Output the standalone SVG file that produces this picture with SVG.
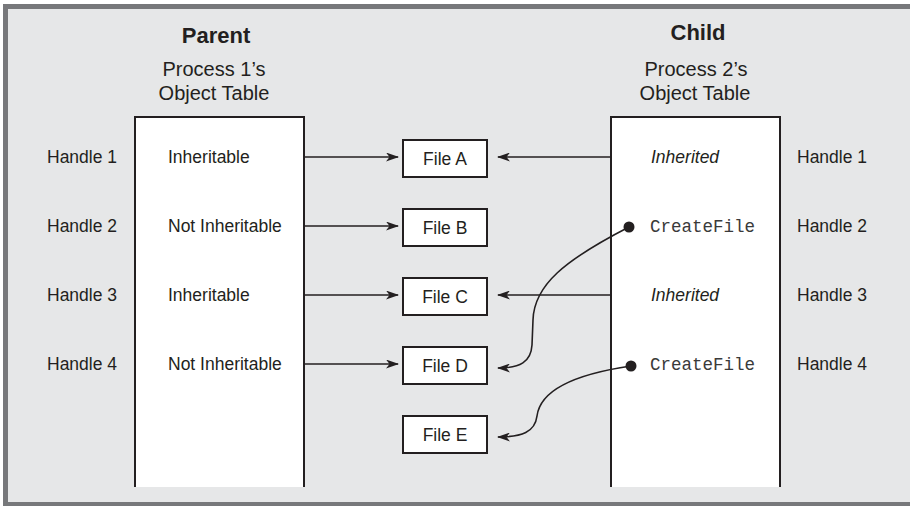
<svg xmlns="http://www.w3.org/2000/svg" width="910" height="506" viewBox="0 0 910 506">
<style>
text{font-family:"Liberation Sans",Arial,sans-serif;fill:#231f20;font-size:17.5px}
.title{font-weight:bold;font-size:22px;text-anchor:middle}
.sub{font-size:20px;text-anchor:middle}
.mid{text-anchor:middle}
.it{font-style:italic}
.mono{font-family:"Liberation Mono","Courier New",monospace;fill:#3a3a3a}
.tbl{fill:#fff;stroke:none}
.tb{fill:none;stroke:#231f20;stroke-width:2}
.file rect{fill:#fff;stroke:#231f20;stroke-width:2}
.conn{fill:none;stroke:#231f20;stroke-width:1.6}
.frame{fill:#77787b}
</style>
<defs>
<marker id="ah" markerWidth="13" markerHeight="9" refX="12" refY="4.5" orient="auto" markerUnits="userSpaceOnUse">
<path d="M0,0 L13,4.5 L0,9 L3.5,4.5 z" fill="#231f20"/>
</marker>
</defs>
<rect x="0" y="0" width="910" height="506" fill="#ffffff"/>
<rect x="3" y="4" width="907" height="502" fill="#e6e7e8"/>
<rect class="frame" x="3" y="4" width="907" height="5"/>
<rect class="frame" x="3" y="4" width="5" height="502"/>
<rect class="frame" x="3" y="502" width="907" height="4"/>

<g id="parent-table">
<text class="title" x="216" y="43">Parent</text>
<text class="sub" x="214" y="76">Process 1’s</text>
<text class="sub" x="214" y="100">Object Table</text>
<rect class="tbl" x="135" y="117" width="169" height="370"/>
<path class="tb" d="M135,487 V117 H304 V487"/>
<text x="168" y="163">Inheritable</text>
<text x="168" y="232">Not Inheritable</text>
<text x="168" y="301">Inheritable</text>
<text x="168" y="370">Not Inheritable</text>
</g>

<g id="child-table">
<text class="title" x="698" y="40">Child</text>
<text class="sub" x="696" y="76">Process 2’s</text>
<text class="sub" x="695" y="100">Object Table</text>
<rect class="tbl" x="611" y="117" width="169" height="370"/>
<path class="tb" d="M611,487 V117 H780 V487"/>
<text class="it" x="651" y="163">Inherited</text>
<text class="mono" x="650" y="232">CreateFile</text>
<text class="it" x="651" y="301">Inherited</text>
<text class="mono" x="650" y="370">CreateFile</text>
</g>

<g id="left-handles">
<text x="47" y="163">Handle 1</text>
<text x="47" y="232">Handle 2</text>
<text x="47" y="301">Handle 3</text>
<text x="47" y="370">Handle 4</text>
</g>
<g id="right-handles">
<text x="797" y="163">Handle 1</text>
<text x="797" y="232">Handle 2</text>
<text x="797" y="301">Handle 3</text>
<text x="797" y="370">Handle 4</text>
</g>

<g id="file-a" class="file"><rect x="403" y="140" width="84" height="37"/><text class="mid" x="445" y="165">File A</text></g>
<g id="file-b" class="file"><rect x="403" y="209" width="84" height="37"/><text class="mid" x="445" y="234">File B</text></g>
<g id="file-c" class="file"><rect x="403" y="278" width="84" height="37"/><text class="mid" x="445" y="303">File C</text></g>
<g id="file-d" class="file"><rect x="403" y="347" width="84" height="37"/><text class="mid" x="445" y="372">File D</text></g>
<g id="file-e" class="file"><rect x="403" y="416" width="84" height="37"/><text class="mid" x="445" y="441">File E</text></g>

<g id="connectors">
<path class="conn" d="M304,157 H398" marker-end="url(#ah)"/>
<path class="conn" d="M304,226 H398" marker-end="url(#ah)"/>
<path class="conn" d="M304,295 H398" marker-end="url(#ah)"/>
<path class="conn" d="M304,364 H398" marker-end="url(#ah)"/>
<path class="conn" d="M611,157 H498" marker-end="url(#ah)"/>
<path class="conn" d="M611,295 H498" marker-end="url(#ah)"/>
<path class="conn" d="M629,227 C565,260 534,285 533,320 L532,345 C531,362 520,368 498,368" marker-end="url(#ah)"/>
<path class="conn" d="M631,366 C590,372 541,385 537,416 C535,432 522,437 498,437" marker-end="url(#ah)"/>
<circle cx="629" cy="227" r="5.5" fill="#231f20"/>
<circle cx="631" cy="366" r="5.5" fill="#231f20"/>
</g>
</svg>
